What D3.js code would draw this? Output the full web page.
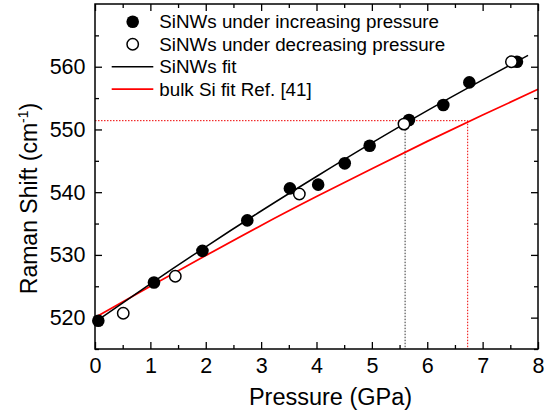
<!DOCTYPE html>
<html>
<head>
<meta charset="utf-8">
<script src="https://cdn.jsdelivr.net/npm/d3@7"></script>
<style>
  body { margin: 0; background: #fff; }
  svg { display: block; font-family: "Liberation Sans", Arial, sans-serif; }
</style>
</head>
<body>
<svg id="chart" width="551" height="414"></svg>
<script>
// SiNWs under increasing pressure (filled)
const incPressure = [0.06, 1.065, 1.94, 2.75, 3.52, 4.03, 4.51, 4.96, 5.67, 6.29, 6.76, 7.62]
const incShift = [519.5, 525.6, 530.65, 535.5, 540.6, 541.2, 544.6, 547.4, 551.5, 553.9, 557.5, 560.8]
// SiNWs under decreasing pressure (open)
const decPressure = [0.51, 1.45, 3.69, 5.58, 7.52]
const decShift = [520.7, 526.6, 539.7, 550.85, 560.8]
// fit curves
const fitPressure = [0.05, 1, 2, 3, 4, 5, 6, 7, 7.82]
const fitShift = [519.6, 525.4, 531.3, 537.0, 542.5, 547.85, 553.0, 557.9, 561.8]
const bulkPressure = [0, 1, 2, 3, 4, 5, 6, 7, 8]
const bulkShift = [520.0, 525.0, 529.9, 534.7, 539.3, 543.75, 548.1, 552.3, 556.4]
// guide lines
const guideShift = 551.4
const guideNwP = 5.6
const guideBulkP = 6.73
// axes
const xTicks = [0, 1, 2, 3, 4, 5, 6, 7, 8]
const yTicks = [520, 530, 540, 550, 560]
const legendLabels = ['SiNWs under increasing pressure', 'SiNWs under decreasing pressure', 'SiNWs fit', 'bulk Si fit Ref. [41]']

const margin = { top: 4, right: 13, bottom: 65, left: 95 }
const svg = d3.select('#chart')
const W = +svg.attr('width') - margin.left - margin.right
const H = +svg.attr('height') - margin.top - margin.bottom
const g = svg.append('g').attr('transform', `translate(${margin.left},${margin.top})`)

const x = d3.scaleLinear().domain([0, 8]).range([0, W])
const y = d3.scaleLinear().domain([515, 570]).range([H, 0])

const xMinor = d3.range(0.5, 8, 1)
const yMinor = d3.range(515, 570, 10)

// ticks (inward)
const tickFont = '21.5px'
const axBottom = g.append('g').attr('transform', `translate(0,${H})`)
  .call(d3.axisBottom(x).tickValues(xTicks).tickSize(-7).tickPadding(8.5).tickFormat(d3.format('d')))
axBottom.append('g').call(d3.axisBottom(x).tickValues(xMinor).tickSize(-4).tickFormat(''))
const axTop = g.append('g')
  .call(d3.axisTop(x).tickValues(xTicks).tickSize(-7).tickFormat(''))
axTop.append('g').call(d3.axisTop(x).tickValues(xMinor).tickSize(-4).tickFormat(''))
const axLeft = g.append('g')
  .call(d3.axisLeft(y).tickValues(yTicks).tickSize(-7).tickPadding(9.5).tickFormat(d3.format('d')))
axLeft.append('g').call(d3.axisLeft(y).tickValues(yMinor).tickSize(-4).tickFormat(''))
const axRight = g.append('g').attr('transform', `translate(${W},0)`)
  .call(d3.axisRight(y).tickValues(yTicks).tickSize(-7).tickFormat(''))
axRight.append('g').call(d3.axisRight(y).tickValues(yMinor).tickSize(-4).tickFormat(''))

g.selectAll('.domain').remove()
g.selectAll('.tick line').attr('stroke', '#000').attr('stroke-width', 1.3)
g.selectAll('.tick text').attr('font-size', tickFont).attr('fill', '#000')
  .style('font-family', '"Liberation Sans", Arial, sans-serif')

// guide lines
g.append('line')
  .attr('x1', x(0)).attr('x2', x(guideBulkP)).attr('y1', y(guideShift)).attr('y2', y(guideShift))
  .attr('stroke', '#e00').attr('stroke-width', 1).attr('stroke-dasharray', '1.5,1.5')
g.append('line')
  .attr('x1', x(guideBulkP)).attr('x2', x(guideBulkP)).attr('y1', y(guideShift)).attr('y2', H)
  .attr('stroke', '#e00').attr('stroke-width', 1).attr('stroke-dasharray', '1.5,1.5')
g.append('line')
  .attr('x1', x(guideNwP)).attr('x2', x(guideNwP)).attr('y1', y(guideShift)).attr('y2', H)
  .attr('stroke', '#333').attr('stroke-width', 1).attr('stroke-dasharray', '1.5,1.5')

// fit lines
const line = d3.line().x(d => x(d[0])).y(d => y(d[1])).curve(d3.curveMonotoneX)
g.append('path').datum(d3.zip(bulkPressure, bulkShift))
  .attr('d', line).attr('fill', 'none').attr('stroke', '#f00').attr('stroke-width', 1.7)
g.append('path').datum(d3.zip(fitPressure, fitShift))
  .attr('d', line).attr('fill', 'none').attr('stroke', '#000').attr('stroke-width', 1.5)

// markers: filled first, open on top
const r = 6.3
g.selectAll('.inc').data(d3.zip(incPressure, incShift)).join('circle')
  .attr('class', 'inc').attr('cx', d => x(d[0])).attr('cy', d => y(d[1])).attr('r', r)
  .attr('fill', '#000')
g.selectAll('.dec').data(d3.zip(decPressure, decShift)).join('circle')
  .attr('class', 'dec').attr('cx', d => x(d[0])).attr('cy', d => y(d[1])).attr('r', r - 0.6)
  .attr('fill', '#fff').attr('stroke', '#000').attr('stroke-width', 1.5)

// frame
g.append('rect').attr('width', W).attr('height', H)
  .attr('fill', 'none').attr('stroke', '#000').attr('stroke-width', 1.5)

// legend
const legend = svg.append('g').attr('font-size', '18.8px')
const rowY = [21.7, 44.2, 66.7, 89.2]
legendLabels.forEach((label, i) => {
  const row = legend.append('g').attr('transform', `translate(0,${rowY[i]})`)
  if (i === 0) row.append('circle').attr('cx', 132.7).attr('r', r).attr('fill', '#000')
  if (i === 1) row.append('circle').attr('cx', 132.7).attr('r', r - 0.6).attr('fill', '#fff').attr('stroke', '#000').attr('stroke-width', 1.5)
  if (i >= 2) {
    row.append('line').attr('x1', 111.7).attr('x2', 153.3)
      .attr('stroke', i === 2 ? '#000' : '#f00').attr('stroke-width', i === 2 ? 1.5 : 1.7)
  }
  row.append('text').attr('x', 159.3).attr('y', 6.3).text(label).attr('fill', '#000')
})

// axis titles
svg.append('text').attr('x', 330.5).attr('y', 405).attr('text-anchor', 'middle')
  .attr('font-size', '23.5px').text('Pressure (GPa)')
const yTitle = svg.append('text').attr('transform', 'translate(37,198.5) rotate(-90)')
  .attr('text-anchor', 'middle').attr('font-size', '23px')
yTitle.append('tspan').text('Raman Shift (cm')
yTitle.append('tspan').attr('font-size', '14px').attr('dy', '-9').text('-1')
yTitle.append('tspan').attr('dy', '9').text(')')
</script>
</body>
</html>
